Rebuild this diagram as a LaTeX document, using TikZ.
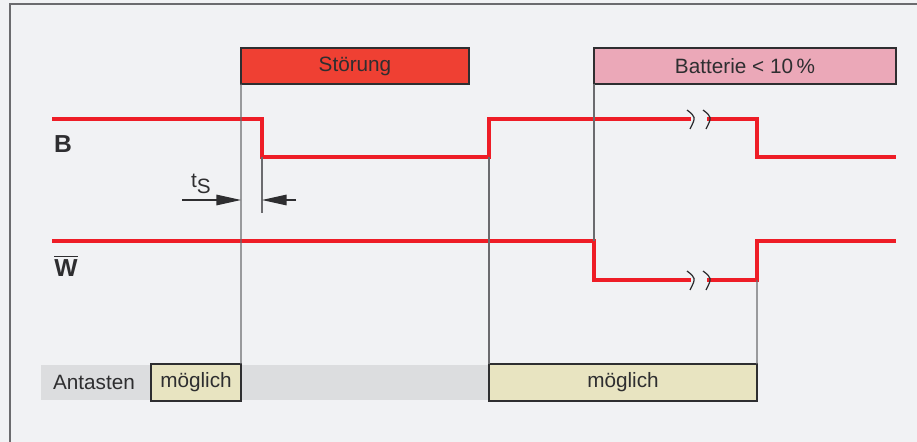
\documentclass[tikz,border=0pt]{standalone}
\usepackage{fontspec}
\setmainfont{Liberation Sans}
\usepackage{xcolor}
\definecolor{bground}{HTML}{F1F2F4}
\definecolor{signalred}{HTML}{EE1D26}
\definecolor{faultred}{HTML}{EF4033}
\definecolor{battpink}{HTML}{EBA8B8}
\definecolor{okbeige}{HTML}{E8E4C1}
\definecolor{bandgray}{HTML}{DCDDDF}
\definecolor{guidegray}{HTML}{6B6B6E}
\definecolor{inkgray}{HTML}{2E2E30}
\usepackage{tikz}
\usetikzlibrary{arrows.meta, positioning}

\begin{document}
\begin{tikzpicture}[x=0.02cm, y=-0.02cm, >={Triangle[length=14pt, width=6pt]},
  signal/.style={signalred, line width=2.4pt},
  guide/.style={guidegray, line width=0.8pt},
  brk/.style={inkgray, line width=0.7pt},
  txt/.style={font=\fontsize{11.8}{13}\selectfont, text=inkgray},
  statebox/.style={draw=inkgray, line width=0.7pt, anchor=north west,
        outer sep=0pt, inner sep=0pt, txt}]

  \useasboundingbox (0,0) rectangle (917,442);
  \fill[bground] (0,0) rectangle (917,442);
  \draw[guidegray, line width=0.9pt] (10,442) -- (10,4) -- (917,4);

  % zustaende oben
  \node[statebox, fill=faultred, minimum width=4.56cm, minimum height=0.72cm]
        (stoerung) at (241,48) {Störung};
  \node[statebox, fill=battpink, minimum width=6.04cm, minimum height=0.72cm]
        (batterie) at (594,48) {Batterie < 10\,\%};

  % antasten
  \node[fill=bandgray, anchor=north west, inner sep=0pt, outer sep=0pt,
        minimum width=8.96cm, minimum height=0.7cm] (band) at (41,365) {};
  \node[txt] (antasten) at (94,382) {Antasten};
  \node[statebox, fill=okbeige, minimum width=1.8cm, minimum height=0.74cm]
        (moeglichA) at (151,364) {möglich};
  \node[statebox, fill=okbeige, minimum width=5.36cm, minimum height=0.74cm]
        (moeglichB) at (489,364) {möglich};

  % signale
  \node[font=\fontsize{14}{16}\selectfont\bfseries, text=inkgray] (labelB) at (63,144) {B};
  \node[font=\fontsize{14}{16}\selectfont\bfseries, text=inkgray] (labelW) at (66,266)
        {$\overline{\hbox{W}}$};

  \draw[signal] (52,119) -- (262,119) -- (262,157) coordinate (bfall)
        -- (489,157) coordinate (brise) -- (489,119) -- (691,119);
  \draw[signal] (707,119) -- (757,119) -- (757,157) -- (896,157);
  \draw[signal] (52,241) -- (594,241) coordinate (wfall) -- (594,280) -- (691,280);
  \draw[signal] (707,280) -- (757,280) coordinate (wrise) -- (757,241) -- (896,241);

  \foreach \y in {119,280} {
    \draw[brk] (687,\y-9) .. controls (696,\y-2) .. (690,\y+10);
    \draw[brk] (703,\y-9) .. controls (712,\y-2) .. (706,\y+10);
  }

  % hilfslinien
  \draw[guide] (stoerung.south west) -- (moeglichA.north east);
  \draw[guide] (brise) -- (moeglichB.north west);
  \draw[guide] (batterie.south west) -- (wfall);
  \draw[guide] (wrise) -- (moeglichB.north east);
  \coordinate (tsend) at (262,213);
  \draw[guide] (bfall) -- (tsend);

  % t_S
  \coordinate (tsleft) at (182,200);
  \coordinate (tsright) at (296,200);
  \draw[->, inkgray, line width=0.7pt] (tsleft) -- (241,200);
  \draw[->, inkgray, line width=0.7pt] (tsright) -- (262,200);
  \node[txt] (ts) at (201,184) {t\raisebox{-0.5ex}{S}};

\end{tikzpicture}
\end{document}
